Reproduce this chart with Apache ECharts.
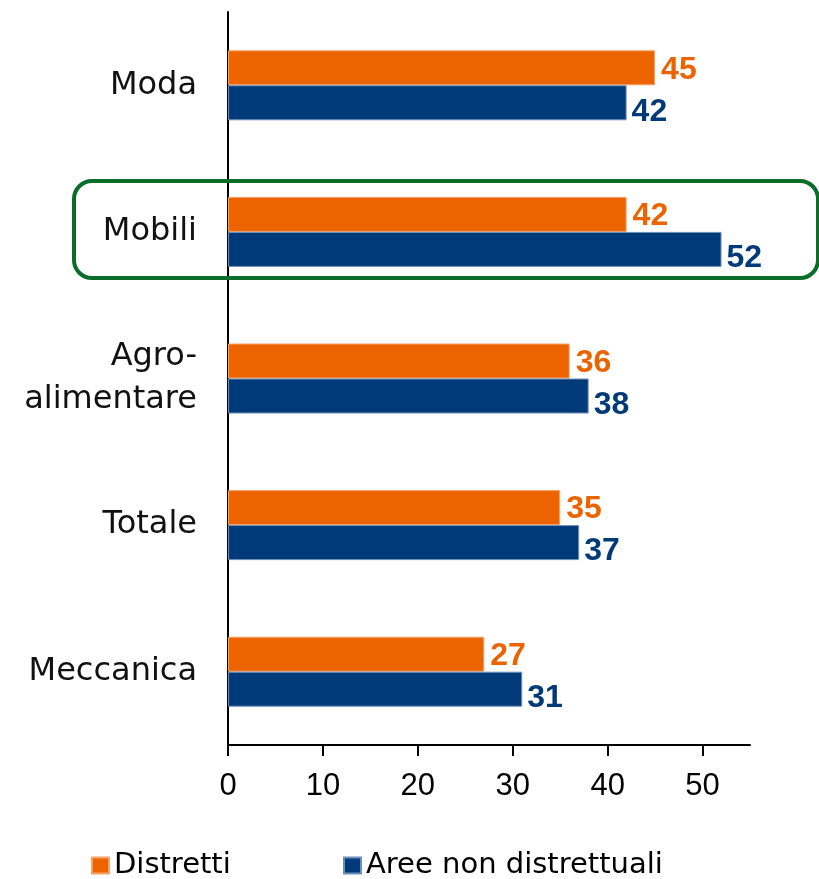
<!DOCTYPE html>
<html>
<head>
<meta charset="utf-8">
<script src="https://cdn.jsdelivr.net/npm/echarts@6/dist/echarts.min.js"></script>
<style>
  html, body { margin: 0; padding: 0; background: #fff; }
  #chart { width: 819px; height: 879px; }
</style>
</head>
<body>
<div id="chart"></div>
<script>
  // dati
  var categorie = ['Moda', 'Mobili', 'Agro-\nalimentare', 'Totale', 'Meccanica'];
  var distretti = [45, 42, 36, 35, 27];
  var areeNonDistrettuali = [42, 52, 38, 37, 31];
  var tickX = [0, 10, 20, 30, 40, 50];

  var arancio = '#EC6400';
  var blu = '#003A78';
  var fontCat = 'DejaVu Sans, Noto Sans, sans-serif';
  var fontNum = 'Liberation Sans, Arial, sans-serif';

  var chart = echarts.init(document.getElementById('chart'));

  var legendaText = {
    fontFamily: fontCat,
    fontSize: 29,
    color: '#000'
  };

  var option = {
    animation: false,
    grid: {
      left: 228,
      right: 69,
      top: 12,
      bottom: 134
    },
    legend: [
      {
        top: 846,
        left: 86,
        itemWidth: 17,
        itemHeight: 16,
        itemGap: 8,
        icon: 'rect',
        textStyle: legendaText,
        data: ['Distretti']
      },
      {
        top: 846,
        left: 338,
        itemWidth: 17,
        itemHeight: 16,
        itemGap: 8,
        icon: 'rect',
        textStyle: legendaText,
        data: ['Aree non distrettuali']
      }
    ],
    xAxis: {
      type: 'value',
      min: 0,
      max: 55,
      interval: 10,
      axisLine: { show: true, lineStyle: { color: '#000', width: 2 } },
      axisTick: { show: true, length: 11, lineStyle: { color: '#000', width: 2 } },
      splitLine: { show: false },
      axisLabel: {
        margin: 26,
        color: '#000',
        fontSize: 31,
        fontFamily: fontNum,
        showMaxLabel: false,
        formatter: function (v) {
          return tickX.indexOf(v) >= 0 ? String(v) : '';
        }
      }
    },
    yAxis: {
      type: 'category',
      inverse: true,
      data: categorie,
      axisLine: { show: true, lineStyle: { color: '#000', width: 2 } },
      axisTick: { show: false },
      axisLabel: {
        margin: 31,
        color: '#111',
        fontSize: 32,
        lineHeight: 43,
        fontFamily: fontCat,
        align: 'right'
      }
    },
    series: [
      {
        name: 'Distretti',
        type: 'bar',
        data: distretti,
        barWidth: 35,
        barGap: '0%',
        itemStyle: { color: arancio, borderColor: '#f6a36a', borderWidth: 1 },
        label: {
          show: true,
          position: 'right',
          distance: 6,
          offset: [0, 2],
          color: arancio,
          fontWeight: 'bold',
          fontSize: 32,
          fontFamily: fontNum
        }
      },
      {
        name: 'Aree non distrettuali',
        type: 'bar',
        data: areeNonDistrettuali,
        barWidth: 35,
        itemStyle: { color: blu, borderColor: '#6f8fb8', borderWidth: 1 },
        label: {
          show: true,
          position: 'right',
          distance: 5,
          offset: [0, 9],
          color: blu,
          fontWeight: 'bold',
          fontSize: 32,
          fontFamily: fontNum
        }
      }
    ],
    graphic: [
      {
        // riquadro verde intorno a "Mobili"
        type: 'rect',
        shape: { x: 74, y: 181, width: 744, height: 97, r: 18 },
        style: { fill: 'none', stroke: '#0A6E2A', lineWidth: 4 },
        z: 10
      }
    ]
  };

  chart.setOption(option);
</script>
</body>
</html>
